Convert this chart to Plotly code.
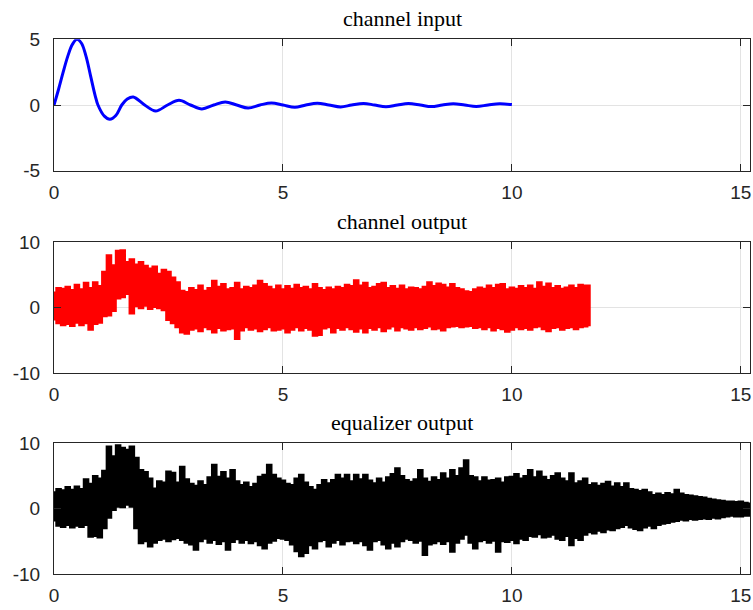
import numpy as np
import plotly.graph_objects as go
from plotly.subplots import make_subplots

# ---------------- data ----------------
# channel input: smooth damped oscillation, key points
input_t = [0, 0.1, 0.2, 0.3, 0.4, 0.5, 0.6, 0.7, 0.8, 0.9, 0.96, 1.1, 1.22, 1.35, 1.48,
           1.6, 1.73, 1.98, 2.22, 2.48, 2.73, 2.98, 3.23, 3.49, 3.74, 3.99, 4.24, 4.5,
           4.75, 5.0, 5.26, 5.5, 5.75, 6.0, 6.26, 6.5, 6.76, 7.0, 7.25, 7.5, 7.74, 8.0,
           8.24, 8.48, 8.72, 8.97, 9.22, 9.48, 9.73, 10.0]
input_y = [0, 1.2, 2.5, 3.7, 4.6, 5.0, 4.7, 3.7, 2.2, 0.7, 0.0, -0.85, -1.09, -0.8, 0.0,
           0.45, 0.61, 0.0, -0.46, 0.0, 0.36, 0.0, -0.30, 0.0, 0.23, 0.0, -0.23, 0.0,
           0.15, 0.0, -0.18, 0.0, 0.13, 0.0, -0.15, 0.0, 0.12, 0.0, -0.13, 0.0, 0.11, 0.0,
           -0.12, 0.0, 0.10, 0.0, -0.11, 0.0, 0.09, 0.03]

# channel output: noisy band, upper / lower envelope every 0.1 s from 0 to 11.7
output_upper = [
    2.3, 3.0, 2.9, 3.2, 2.7, 3.5, 2.8, 3.8, 3.0, 3.9,
    3.3, 5.5, 8.0, 6.5, 8.7, 8.8, 7.0, 7.4, 6.6, 7.0,
    6.4, 6.0, 6.3, 5.2, 5.8, 5.5, 4.6, 3.9, 2.6, 2.4,
    3.0, 2.7, 3.4, 2.6, 3.0, 4.1, 3.2, 3.6, 2.8, 3.0,
    3.8, 2.8, 3.2, 3.0, 3.4, 4.1, 3.6, 3.2, 2.8, 3.4,
    2.8, 3.3, 2.9, 3.5, 3.0, 3.2, 2.8, 3.6, 3.0, 2.7,
    3.1, 2.8, 3.2, 3.0, 3.5, 3.3, 4.2, 3.4, 3.8, 3.0,
    3.2, 3.6, 3.8, 3.0, 3.3, 2.9, 3.4, 2.8, 3.1, 3.0,
    2.8, 3.2, 3.9, 3.3, 3.7, 3.5, 3.1, 3.6, 3.0, 2.8,
    2.5, 2.4, 2.8, 3.1, 2.9, 3.4, 3.0, 3.5, 3.6, 2.8,
    3.1, 2.9, 3.3, 3.0, 3.4, 2.9, 3.9, 3.2, 3.7, 3.0,
    3.3, 2.9, 3.1, 3.4, 3.0, 3.5, 3.4, 3.4]
output_lower = [
    -1.8, -2.4, -2.7, -2.5, -2.8, -2.3, -2.7, -2.4, -3.4, -2.5,
    -2.3, -1.3, -1.2, -0.5, 1.4, 1.6, 2.1, -0.9, 0.2, -0.1,
    0.3, -0.2, 0.1, -0.1, -0.4, -1.9, -2.4, -3.0, -3.8, -4.0,
    -3.4, -3.2, -3.6, -3.0, -3.3, -3.8, -3.1, -3.5, -3.3, -3.2,
    -4.8, -3.5, -3.0, -3.4, -3.2, -3.6, -3.3, -3.0, -3.5, -3.4,
    -3.2, -3.8, -3.4, -3.0, -3.5, -3.1, -3.4, -4.3, -4.2, -3.2,
    -3.0, -3.8, -3.1, -3.4, -3.0, -3.3, -3.7, -3.2, -3.8, -3.1,
    -3.4, -3.0, -3.6, -3.2, -2.9, -3.5, -3.0, -3.2, -3.4, -3.0,
    -3.3, -3.1, -2.9, -3.3, -3.2, -3.5, -3.0, -2.9, -2.8, -3.0,
    -2.9, -2.8, -3.1, -3.0, -3.3, -3.0, -3.5, -3.1, -3.3, -3.7,
    -3.4, -3.0, -3.3, -3.1, -3.4, -3.0, -2.9, -3.3, -3.6, -3.1,
    -3.0, -3.4, -3.1, -3.0, -3.3, -3.0, -2.9, -2.7]

# equalizer output: noisy band, upper / lower envelope every 0.1 s from 0 to 15.2
equal_upper = [
    2.5, 3.0, 2.8, 3.3, 2.9, 3.4, 3.0, 4.5, 3.8, 5.0,
    4.6, 5.8, 9.5, 8.0, 9.7, 9.3, 9.0, 9.5, 7.8, 5.9,
    5.6, 4.6, 3.1, 4.2, 4.0, 5.7, 5.5, 4.0, 6.4, 4.5,
    3.8, 3.5, 4.2, 3.6, 4.8, 6.7, 4.9, 5.6, 4.6, 5.9,
    4.2, 3.6, 4.0, 3.3, 3.8, 4.9, 5.2, 6.7, 5.2, 4.6, 4.3,
    3.8, 3.6, 4.6, 5.2, 4.0, 3.3, 2.9, 3.6, 4.4, 3.9,
    4.4, 5.2, 4.6, 5.2, 4.2, 5.2, 4.5, 5.2, 4.3, 3.9,
    4.6, 4.0, 4.8, 5.3, 6.2, 5.0, 4.4, 4.1, 4.5, 5.9,
    4.6, 4.1, 4.8, 4.4, 5.4, 4.6, 5.9, 5.0, 6.2, 7.4,
    5.0, 4.8, 4.2, 4.8, 4.3, 4.4, 4.6, 4.0, 4.8, 4.9,
    5.3, 4.6, 5.0, 5.9, 4.8, 5.7, 4.9, 4.4, 5.0, 5.4,
    4.6, 4.2, 5.4, 3.9, 4.2, 4.6, 3.6, 3.9, 3.5, 3.8,
    4.1, 3.4, 3.9, 3.3, 3.9, 3.0, 2.9, 2.7, 2.9, 2.5,
    2.1, 2.3, 2.1, 2.4, 2.2, 2.9, 2.3, 2.1, 2.0, 1.9,
    1.8, 1.7, 1.5, 1.4, 1.3, 1.2, 1.1, 1.1, 1.0, 1.1,
    0.9, 0.8]
equal_lower = [
    -1.8, -2.6, -2.8, -2.5, -2.9, -2.6, -2.8, -2.5, -4.3, -4.2,
    -4.4, -3.0, -1.4, -0.2, 0.3, 0.2, 0.6, 0.3, -3.0, -5.3,
    -5.0, -5.8, -5.2, -4.8, -4.6, -5.0, -4.7, -4.5, -4.8, -5.2,
    -5.5, -6.3, -5.0, -4.6, -5.2, -4.8, -5.4, -5.0, -6.3, -5.1,
    -4.7, -5.2, -4.8, -5.3, -5.0, -5.6, -6.1, -5.2, -4.9, -4.5, -4.6,
    -4.8, -5.5, -6.5, -7.3, -6.8, -5.6, -6.1, -5.0, -4.8, -5.8,
    -5.2, -4.8, -5.5, -5.0, -4.9, -5.3, -5.0, -5.6, -6.3, -5.0,
    -4.8, -5.5, -6.1, -5.2, -5.8, -5.0, -4.6, -4.8, -5.2, -4.9,
    -7.1, -5.5, -5.3, -5.0, -5.4, -5.0, -6.6, -5.2, -4.6, -4.0,
    -5.2, -6.1, -5.0, -4.8, -5.2, -4.9, -6.6, -5.0, -5.1, -4.8,
    -5.3, -4.6, -4.8, -4.2, -4.3, -3.9, -4.4, -4.3, -4.0, -4.6,
    -4.8, -4.2, -5.6, -4.5, -4.8, -4.0, -3.6, -3.8, -3.4, -3.6,
    -3.2, -3.3, -3.0, -2.8, -2.5, -2.9, -3.1, -3.3, -2.9, -2.6,
    -3.0, -2.5, -2.3, -2.2, -2.0, -1.9, -1.7, -1.8, -1.6, -1.7,
    -1.6, -1.5, -1.6, -1.4, -1.5, -1.3, -1.2, -1.1, -1.2, -1.2,
    -1.1, -1.1]

titles = ["channel input", "channel output", "equalizer output"]
x_ticks = [0, 5, 10, 15]
y_ticks = [[-5, 0, 5], [-10, 0, 10], [-10, 0, 10]]
y_ranges = [[-5, 5], [-10, 10], [-10, 10]]
x_range = [0, 15.2]

# ---------------- figure ----------------
W, H = 753, 610
ml, mr, mt, mb = 54, 3, 39, 36
fig = make_subplots(rows=3, cols=1)


def band(upper, lower):
    t = [round(i * 0.1, 1) for i in range(len(upper))]
    return t + t[::-1], list(upper) + list(lower)[::-1]


fig.add_trace(go.Scatter(x=input_t, y=input_y, mode="lines",
                         line=dict(color="#0000ff", width=3, shape="spline", smoothing=1.0),
                         hoverinfo="skip"), row=1, col=1)

bx, by = band(output_upper, output_lower)
fig.add_trace(go.Scatter(x=bx, y=by, mode="lines", fill="toself", fillcolor="#ff0000",
                         line=dict(color="#ff0000", width=2, shape="hvh"), hoverinfo="skip"),
              row=2, col=1)

bx, by = band(equal_upper, equal_lower)
fig.add_trace(go.Scatter(x=bx, y=by, mode="lines", fill="toself", fillcolor="#000000",
                         line=dict(color="#000000", width=2, shape="hvh"), hoverinfo="skip"),
              row=3, col=1)

plot_h = H - mt - mb
# pixel tops/bottoms of the three axes boxes
boxes = [(39.3, 170.7), (242.3, 373.0), (443.3, 574.0)]
axis_font = dict(family="Liberation Sans, Arial, sans-serif", size=19, color="#262626")
for i, (top, bot) in enumerate(boxes):
    d0 = (H - mb - bot) / plot_h
    d1 = (H - mb - top) / plot_h
    d0 = max(0.0, d0)
    d1 = min(1.0, d1)
    sfx = "" if i == 0 else str(i + 1)
    fig.layout["yaxis" + sfx].update(
        domain=[d0, d1], range=y_ranges[i], tickvals=y_ticks[i],
        ticktext=[str(v) for v in y_ticks[i]],
        showgrid=True, gridcolor="#e3e3e3", gridwidth=1, zeroline=False,
        showline=True, linecolor="#262626", linewidth=1, mirror="ticks",
        ticks="inside", ticklen=7, tickcolor="#262626", tickfont=axis_font,
        ticklabelstandoff=9)
    fig.layout["xaxis" + sfx].update(
        range=x_range, tickvals=x_ticks, ticktext=[str(v) for v in x_ticks],
        showgrid=True, gridcolor="#e3e3e3", gridwidth=1, zeroline=False,
        showline=True, linecolor="#262626", linewidth=1, mirror="ticks",
        ticks="inside", ticklen=7, tickcolor="#262626", tickfont=axis_font,
        ticklabelstandoff=4)
    fig.add_annotation(text=titles[i], x=0.5, y=d1, xref="paper", yref="paper",
                       xanchor="center", yanchor="bottom", yshift=6, showarrow=False,
                       font=dict(family="Liberation Serif, Times New Roman, serif",
                                 size=22, color="#000000"))

fig.update_layout(width=W, height=H, margin=dict(l=ml, r=mr, t=mt, b=mb),
                  paper_bgcolor="white", plot_bgcolor="white", showlegend=False)

fig.write_html("out.html")
